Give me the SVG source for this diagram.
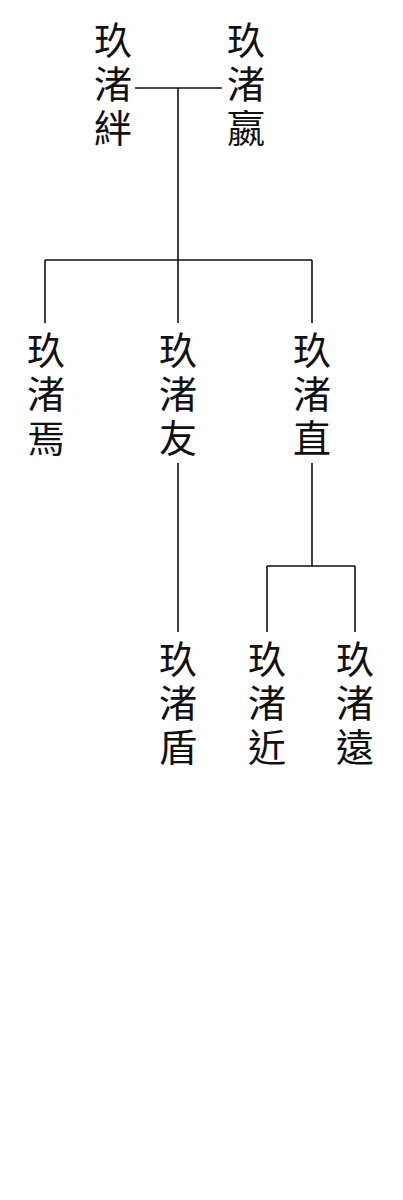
<svg xmlns="http://www.w3.org/2000/svg" width="403" height="1200" viewBox="0 0 403 1200">
<style>
text{font-family:"Noto Sans CJK TC","Noto Sans CJK SC",serif;font-size:38px;fill:#111;writing-mode:vertical-rl;letter-spacing:6px}
.c{stroke:#111;stroke-width:1.6;fill:none}
</style>
<rect width="403" height="1200" fill="#fff"/>
<g id="connectors">
<path class="c" d="M135 88H222M178 88V260M45 260H312M45 260V323M178 260V323M312 260V323"/>
<path class="c" d="M178 463V632M312 463V566M267 566H355M267 566V632M355 566V632"/>
</g>
<g id="n1"><text x="113" y="21">玖渚絆</text></g>
<g id="n2"><text x="246" y="21">玖渚嬴</text></g>
<g id="n3"><text x="46" y="331">玖渚焉</text></g>
<g id="n4"><text x="178" y="331">玖渚友</text></g>
<g id="n5"><text x="312" y="331">玖渚直</text></g>
<g id="n6"><text x="178" y="640">玖渚盾</text></g>
<g id="n7"><text x="267" y="640">玖渚近</text></g>
<g id="n8"><text x="355" y="640">玖渚遠</text></g>
</svg>
